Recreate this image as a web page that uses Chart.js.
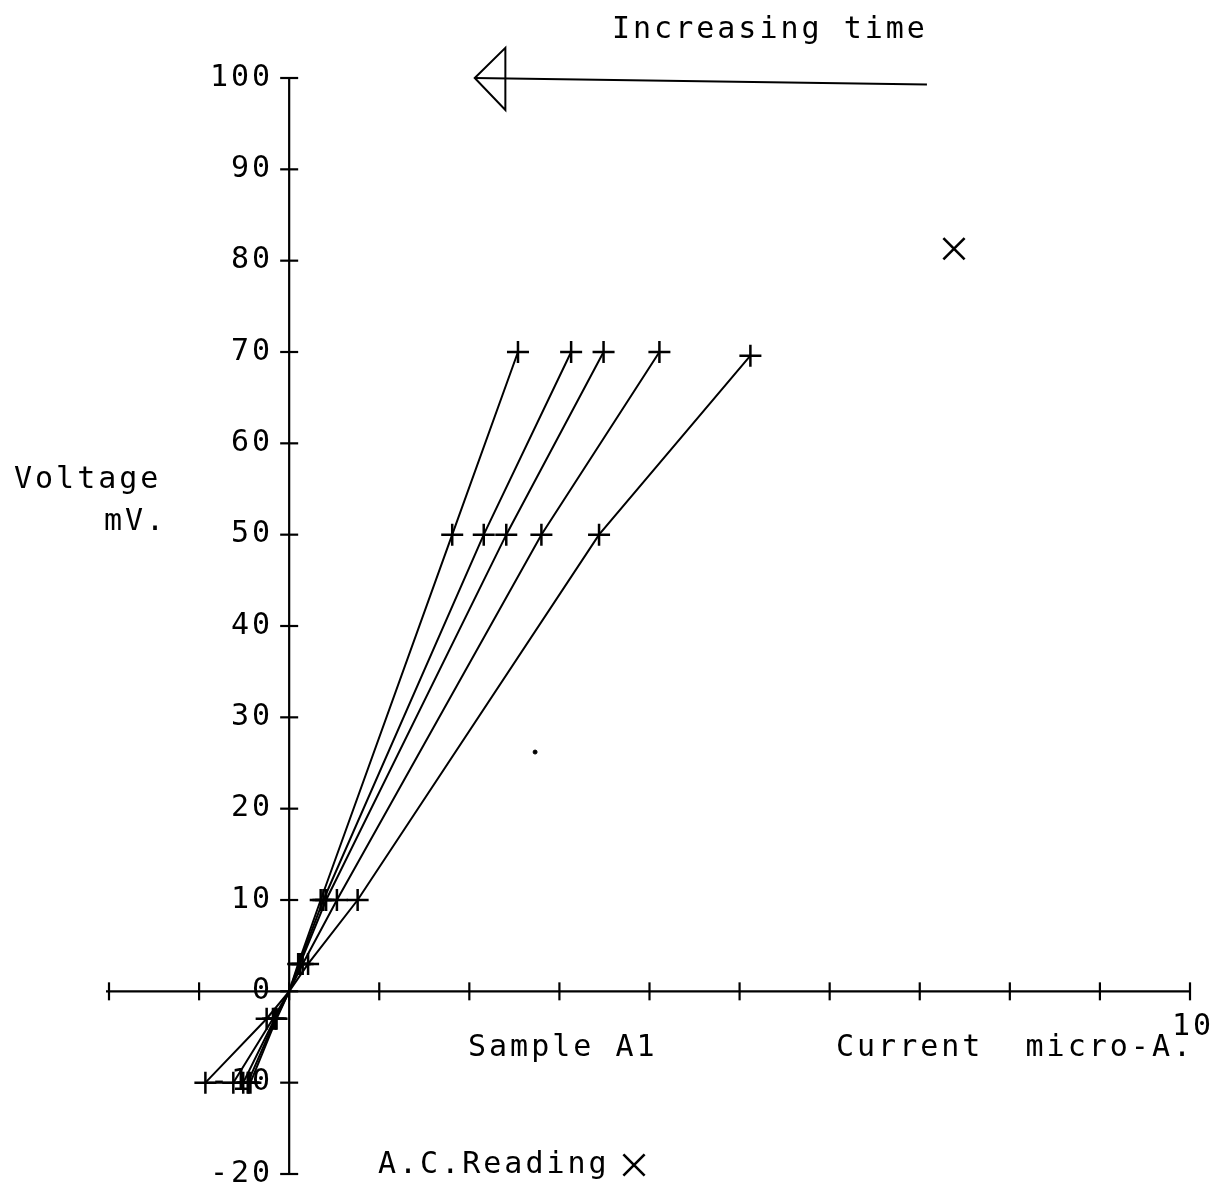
<!DOCTYPE html>
<html>
<head>
<meta charset="utf-8">
<script src="https://cdn.jsdelivr.net/npm/chart.js@4"></script>
<style>
  html, body { margin: 0; padding: 0; background: #fff; }
  #wrap { width: 1221px; height: 1193px; position: relative; }
</style>
</head>
<body>
<div id="wrap"><canvas id="chart"></canvas></div>
<script>
// ---- data ----
var voltage = [-10, -3, 0, 3, 10, 50, 70];
var voltage5 = [-10, -10, -3, 0, 3, 10, 50, 69.6];

var current1 = [-0.43, -0.14, 0, 0.10, 0.35, 1.81, 2.54];
var current2 = [-0.46, -0.15, 0, 0.11, 0.38, 2.16, 3.13];
var current3 = [-0.51, -0.16, 0, 0.12, 0.41, 2.41, 3.49];
var current4 = [-0.62, -0.18, 0, 0.15, 0.53, 2.80, 4.11];
var current5 = [-0.45, -0.93, -0.25, 0, 0.21, 0.76, 3.44, 5.12];

var acCurrent = [7.38];
var acVoltage = [81.3];

var speckX = [2.73];
var speckY = [26.2];

var yTicks = [-20, -10, 0, 10, 20, 30, 40, 50, 60, 70, 80, 90, 100];
var xTicks = [-2, -1, 0, 1, 2, 3, 4, 5, 6, 7, 8, 9, 10];
var xTickLabels = [10];

// "Increasing time" arrow, in data units
var arrowX = [7.08, 2.06];
var arrowY = [99.3, 100];
var arrowHeadBackX = 2.40;
var arrowHeadY = [103.3, 96.5];

var FONT = '30px "DejaVu Sans Mono", monospace';

function toPoints(xs, ys) {
    return xs.map(function(x, i) { return { x: x, y: ys[i] }; });
}

function lineSet(xs, ys) {
    return {
        data: toPoints(xs, ys),
        showLine: true,
        borderColor: '#000',
        borderWidth: 2,
        pointStyle: 'cross',
        pointBorderColor: '#000',
        pointBorderWidth: 2.5,
        pointRadius: function(ctx) {
            var p = ctx.raw;
            return (p && p.y === 0) ? 0 : 11;
        },
        tension: 0,
        clip: false
    };
}

function drawText(ctx, str, x, y, align) {
    ctx.save();
    ctx.font = FONT;
    ctx.letterSpacing = '3px';
    ctx.fillStyle = '#000';
    ctx.textAlign = align || 'left';
    ctx.textBaseline = 'middle';
    ctx.fillText(str, x, y);
    ctx.restore();
}

// axes, labels and the arrow drawn the old plotter way
var plotterAxes = {
    id: 'plotterAxes',
    beforeDatasetsDraw: function(chart) {
        var ctx = chart.ctx;
        var xs = chart.scales.x, ys = chart.scales.y;
        var x0 = xs.getPixelForValue(0), y0 = ys.getPixelForValue(0);

        ctx.save();
        ctx.strokeStyle = '#000';
        ctx.lineWidth = 2.2;

        // y axis
        ctx.beginPath();
        ctx.moveTo(x0, ys.getPixelForValue(yTicks[yTicks.length - 1]));
        ctx.lineTo(x0, ys.getPixelForValue(yTicks[0]));
        ctx.stroke();
        yTicks.forEach(function(v) {
            var py = ys.getPixelForValue(v);
            ctx.beginPath();
            ctx.moveTo(x0 - 9, py);
            ctx.lineTo(x0 + 9, py);
            ctx.stroke();
            drawText(ctx, String(v), x0 - 16, py, 'right');
        });

        // x axis
        ctx.beginPath();
        ctx.moveTo(xs.getPixelForValue(xTicks[0]) - 3, y0);
        ctx.lineTo(xs.getPixelForValue(xTicks[xTicks.length - 1]), y0);
        ctx.stroke();
        xTicks.forEach(function(v) {
            var px = xs.getPixelForValue(v);
            ctx.beginPath();
            ctx.moveTo(px, y0 - 9);
            ctx.lineTo(px, y0 + 9);
            ctx.stroke();
        });
        xTickLabels.forEach(function(v) {
            drawText(ctx, String(v), xs.getPixelForValue(v) + 3, y0 + 36, 'center');
        });

        // arrow
        ctx.lineWidth = 2;
        ctx.beginPath();
        ctx.moveTo(xs.getPixelForValue(arrowX[0]), ys.getPixelForValue(arrowY[0]));
        ctx.lineTo(xs.getPixelForValue(arrowX[1]), ys.getPixelForValue(arrowY[1]));
        ctx.stroke();
        var tipX = xs.getPixelForValue(arrowX[1]), tipY = ys.getPixelForValue(arrowY[1]);
        var backX = xs.getPixelForValue(arrowHeadBackX);
        ctx.beginPath();
        ctx.moveTo(tipX, tipY);
        ctx.lineTo(backX, ys.getPixelForValue(arrowHeadY[0]));
        ctx.lineTo(backX, ys.getPixelForValue(arrowHeadY[1]));
        ctx.closePath();
        ctx.stroke();
        ctx.restore();

        // annotations
        drawText(ctx, 'Increasing time', 612, 30);
        drawText(ctx, 'Voltage', 14, 480);
        drawText(ctx, 'mV.', 104, 522);
        drawText(ctx, 'Sample A1', 468, 1048);
        drawText(ctx, 'Current  micro-A.', 836, 1048);
        drawText(ctx, 'A.C.Reading', 378, 1165);

        ctx.save();
        ctx.strokeStyle = '#000';
        ctx.lineWidth = 2.6;
        Chart.helpers.drawPoint(ctx, { pointStyle: 'crossRot', radius: 15, rotation: 0, borderWidth: 2.6 }, 634, 1165);
        ctx.restore();
    }
};

new Chart(document.getElementById('chart'), {
    type: 'scatter',
    data: {
        datasets: [
            lineSet(current1, voltage),
            lineSet(current2, voltage),
            lineSet(current3, voltage),
            lineSet(current4, voltage),
            lineSet(current5, voltage5),
            {
                data: toPoints(acCurrent, acVoltage),
                pointStyle: 'crossRot',
                pointRadius: 15,
                pointBorderWidth: 2.6,
                pointBorderColor: '#000',
                showLine: false,
                clip: false
            },
            {
                data: toPoints(speckX, speckY),
                pointStyle: 'circle',
                pointRadius: 2,
                pointBackgroundColor: '#000',
                pointBorderColor: '#000',
                showLine: false
            }
        ]
    },
    options: {
        responsive: true,
        maintainAspectRatio: false,
        animation: false,
        layout: { padding: { left: 109, right: 31, top: 78, bottom: 19 } },
        plugins: { legend: { display: false }, tooltip: { enabled: false } },
        scales: {
            x: { type: 'linear', min: -2, max: 10, display: false },
            y: { type: 'linear', min: -20, max: 100, display: false }
        }
    },
    plugins: [plotterAxes]
});
</script>
</body>
</html>
